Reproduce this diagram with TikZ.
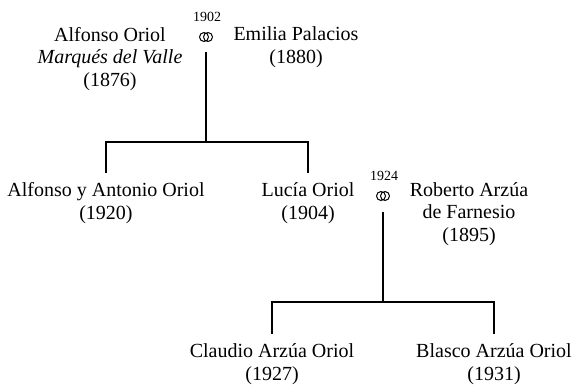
\documentclass[tikz,border=0pt]{standalone}
\usepackage{fontspec}
\setmainfont{Liberation Serif}
\begin{document}
\begin{tikzpicture}[x=1pt,y=-1pt,
    person/.style={anchor=base,align=center,inner sep=0pt,inner ysep=9pt,
                   font=\fontsize{20}{22.5}\selectfont},
    year/.style={anchor=base,inner sep=0pt,font=\fontsize{14}{14}\selectfont},
    rings/.style={inner sep=0pt,minimum width=14pt,minimum height=10pt},
    line/.style={line width=1.8pt}]
    \useasboundingbox (0,0) rectangle (576,384);
    % first generation (base = last line)
    \node[person] (alfonso) at (110,86) {Alfonso Oriol\\\textit{Marqués del Valle}\\(1876)};
    \node[person] (emilia) at (296,63) {Emilia Palacios\\(1880)};
    \node[year] (y1) at (207,21) {1902};
    \node[rings] (m1) at (206,37) {};
    \draw[line width=1pt,shift={(m1.center)}] (-2,0) circle (4.5) (2,0) circle (4.5);
    % second generation
    \node[person] (twins) at (106,219) {Alfonso y Antonio Oriol\\(1920)};
    \node[person] (lucia) at (308,219) {Lucía Oriol\\(1904)};
    \node[person] (roberto) at (469,241) {Roberto Arzúa\\de Farnesio\\(1895)};
    \node[year] (y2) at (384,180) {1924};
    \node[rings] (m2) at (383,196) {};
    \draw[line width=1pt,shift={(m2.center)}] (-2,0) circle (4.5) (2,0) circle (4.5);
    % third generation
    \node[person] (claudio) at (272,380) {Claudio Arzúa Oriol\\(1927)};
    \node[person] (blasco) at (494,380) {Blasco Arzúa Oriol\\(1931)};
    % connectors
    \coordinate (j1) at (206,142);
    \coordinate (j2) at (383,302);
    \draw[line,shorten <=10pt] (m1.south) -- (j1);
    \draw[line] (j1) -| (twins.north);
    \draw[line] (j1) -| (lucia.north);
    \draw[line,shorten <=11pt] (m2.south) -- (j2);
    \draw[line] (j2) -| (claudio.north);
    \draw[line] (j2) -| (blasco.north);
\end{tikzpicture}
\end{document}
